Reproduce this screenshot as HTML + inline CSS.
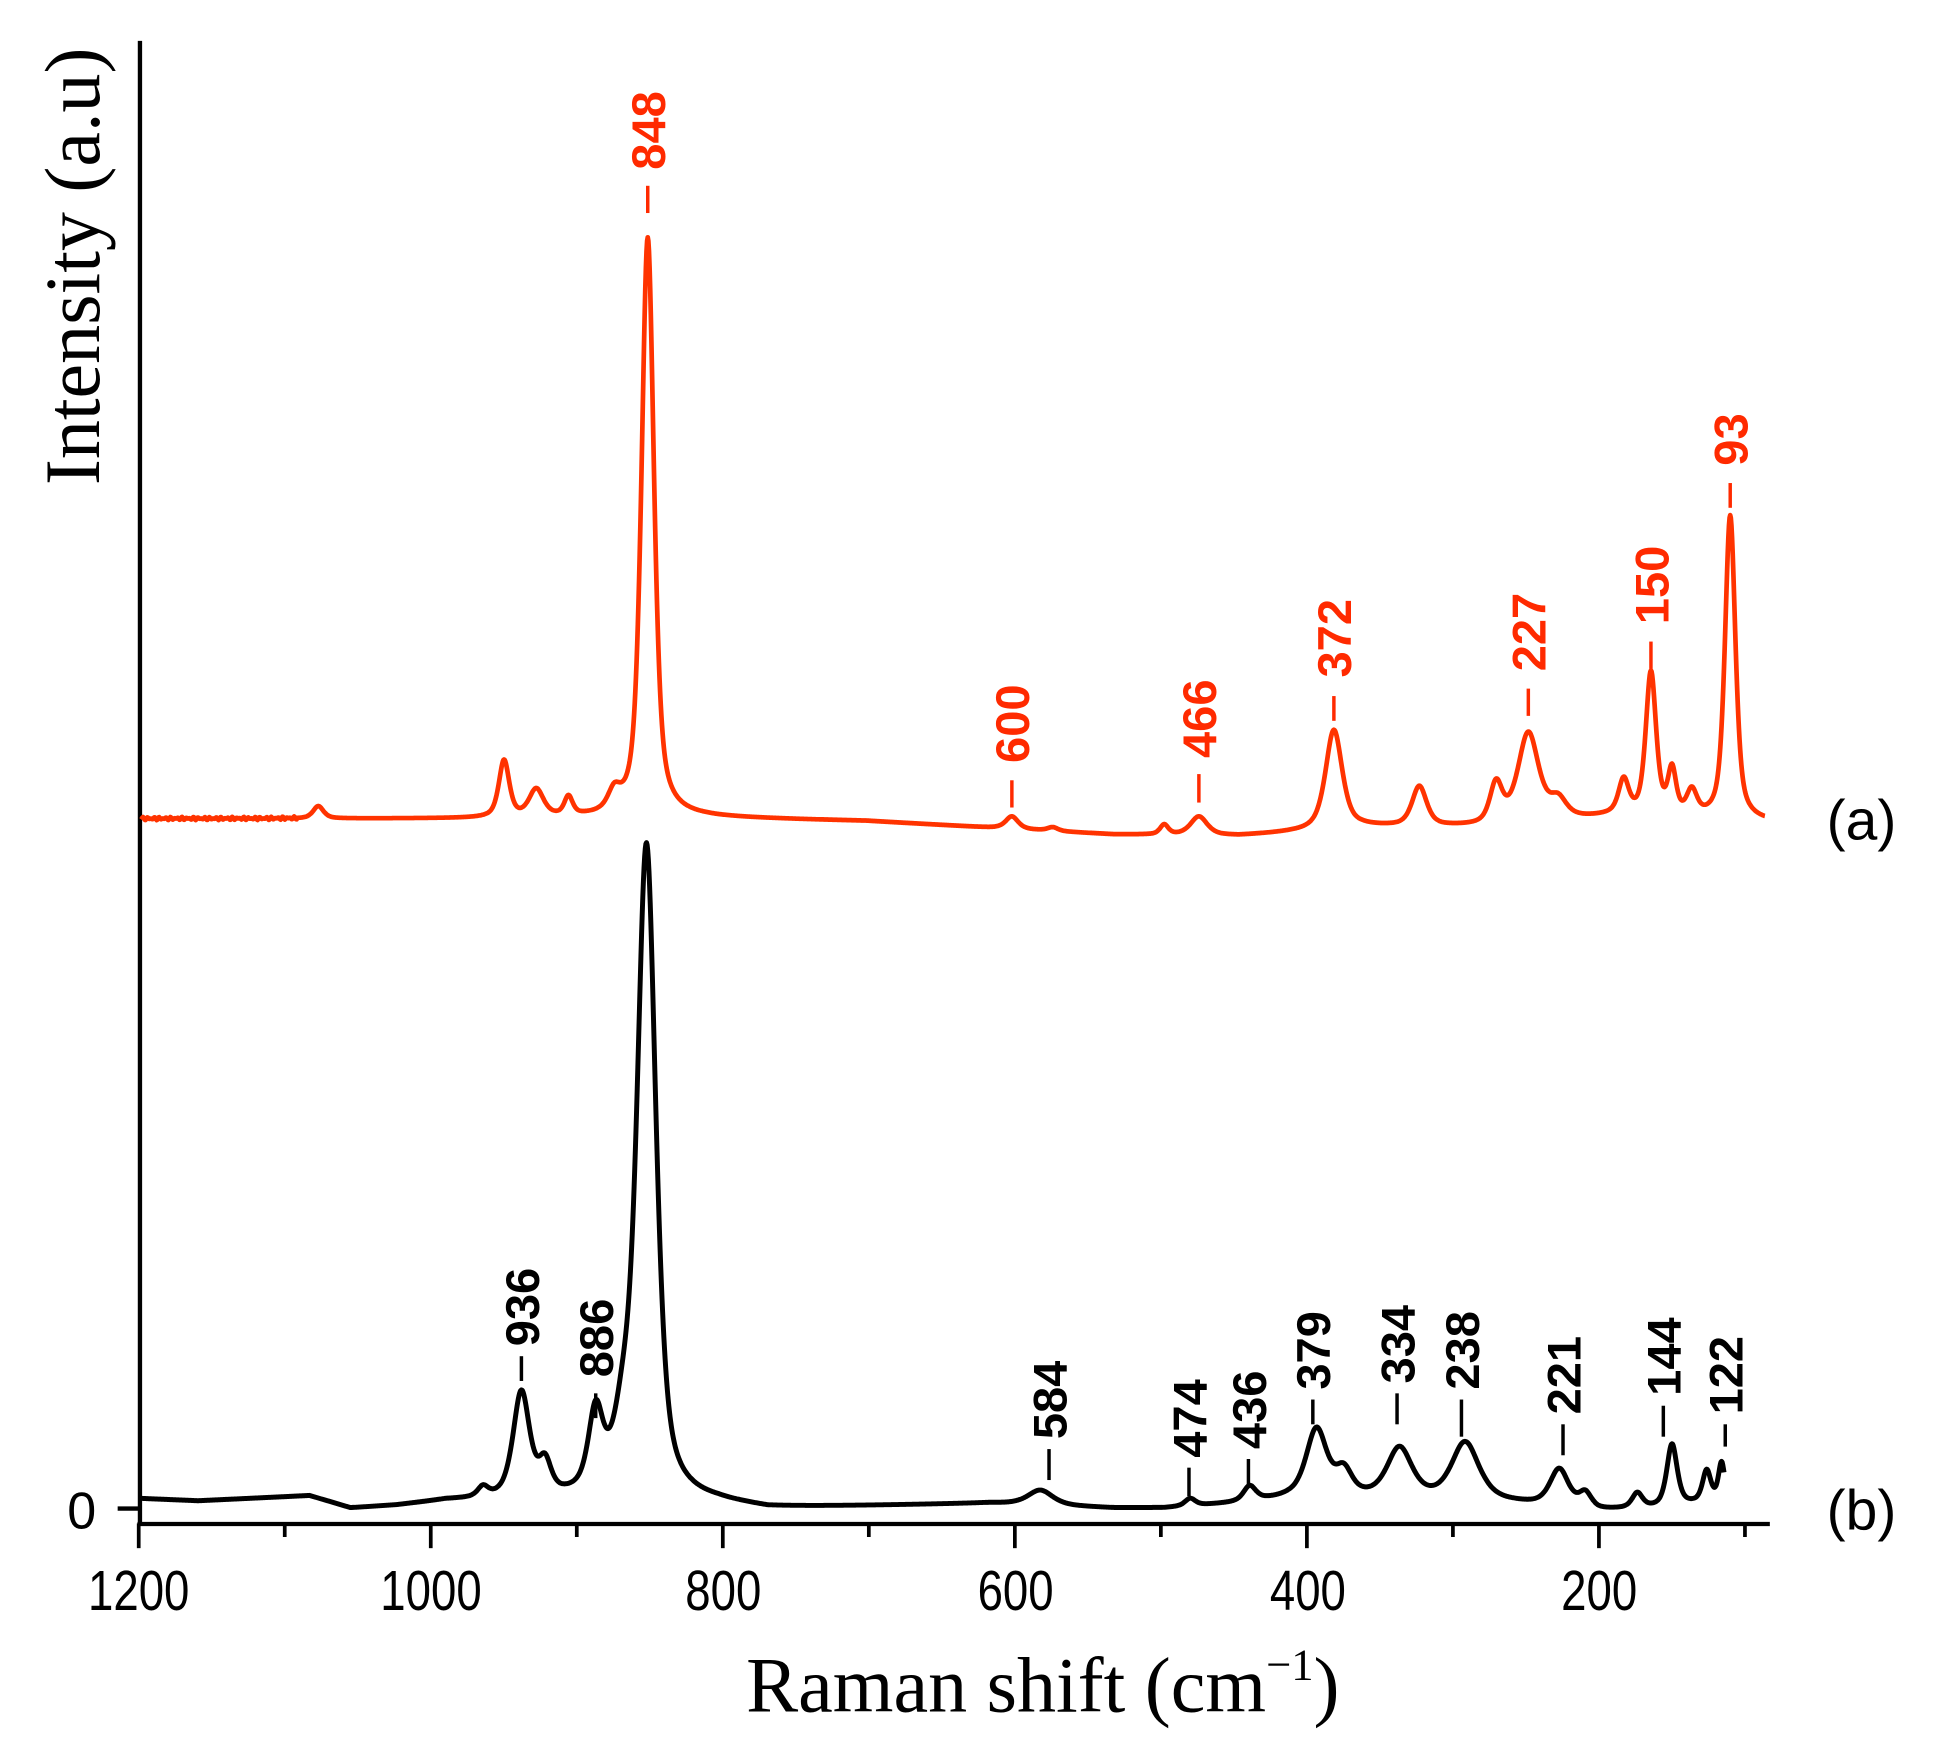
<!DOCTYPE html>
<html><head><meta charset="utf-8"><style>html,body{margin:0;padding:0;background:#fff}svg{display:block}</style></head>
<body>
<svg id="s" width="1942" height="1742" viewBox="0 0 1568 1406.5" xmlns="http://www.w3.org/2000/svg">
<rect width="1568" height="1406.5" fill="#fff"/>
<g stroke="#000" stroke-width="3.5" fill="none">
<line x1="113" y1="33" x2="113" y2="1232"/>
<line x1="111" y1="1230.5" x2="1429" y2="1230.5"/>
<line x1="95" y1="1218" x2="112" y2="1218"/>
</g>
<g id="ticks" stroke="#000" stroke-width="3"></g>
<g font-family="Liberation Sans, Arial, sans-serif" font-size="46" text-anchor="middle" fill="#000">
<g transform="scale(0.8,1)">
<text x="140" y="1300">1200</text><text x="435" y="1300">1000</text><text x="730" y="1300">800</text>
<text x="1025" y="1300">600</text><text x="1320" y="1300">400</text><text x="1614" y="1300">200</text>
</g>
<text x="66" y="1234" font-size="42">0</text>
<text x="1503" y="678" font-size="46">(a)</text>
<text x="1503" y="1235" font-size="46">(b)</text>
</g>
<text x="842" y="1382" font-family="Liberation Serif, Times New Roman, serif" font-size="63" text-anchor="middle">Raman shift (cm<tspan dy="-26" font-size="36">−1</tspan><tspan dy="26">)</tspan></text>
<text transform="translate(80,215) rotate(-90)" font-family="Liberation Serif, Times New Roman, serif" font-size="63" text-anchor="middle">Intensity (a.u)</text>
<path id="red" fill="none" stroke="#ff3300" stroke-width="3.8" stroke-linejoin="round"/>
<path id="blk" fill="none" stroke="#000" stroke-width="4" stroke-linejoin="round"/>
<g id="rl" font-family="Liberation Sans, Arial, sans-serif" font-weight="bold" font-size="38" fill="#ff2a00"></g>
<g id="bl" font-family="Liberation Sans, Arial, sans-serif" font-weight="bold" font-size="38" fill="#000"></g>
</svg>
<script>
var NS="http://www.w3.org/2000/svg";
function interp(pts,x){for(var i=0;i<pts.length-1;i++){if(x<=pts[i+1][0]){var t=(x-pts[i][0])/(pts[i+1][0]-pts[i][0]);return pts[i][1]+t*(pts[i+1][1]-pts[i][1]);}}return pts[pts.length-1][1];}
function build(base,peaks,x0,x1,noise){var d="";for(var x=x0;x<=x1;x+=0.5){var y=interp(base,x);for(var p of peaks){var u=(x-p[0])/p[2];y-=p[1]*(0.6/(1+u*u)+0.4*Math.exp(-u*u*0.7));}
if(noise&&x<240)y+=Math.sin(x*1.7)*1.3*Math.sin(x*0.31);d+=(d?"L":"M")+x.toFixed(1)+","+y.toFixed(1);}return d;}
var rb=[[113,661],[400,661],[560,660],[700,663],[900,674],[1000,675],[1050,672],[1100,668],[1200,668],[1300,660],[1425,664]];
var rp=[[257,10,5],[407,46,5],[433,22,7],[459,15,4],[496,15,6],[523,468,6],[817,10,6],[850,3,5],[940,8,4],[968,15,8],[1077,80,8],[1146,32,7],[1208,32,6],[1234,72,10],[1258,15,8],[1311,28,5],[1333,116,5],[1350,36,4],[1366,20,5],[1397,246,5]];
document.getElementById("red").setAttribute("d",build(rb,rp,114,1425,true));
var bb=[[113,1210],[160,1212],[250,1208],[283,1218],[320,1216],[360,1212],[500,1212],[580,1214],[620,1218],[800,1214],[900,1218],[940,1218],[1000,1214],[1040,1210],[1100,1210],[1200,1212],[1290,1220],[1340,1218],[1392,1212]];
var bp=[[390,8,5],[421,85,8],[440,25,6],[481,62,7],[503,45,9],[522,525,9],[840,12,12],[961,6,5],[1009,12,6],[1063,55,10],[1085,20,8],[1130,40,12],[1183,46,13],[1259,30,9],[1280,12,6],[1322,12,5],[1350,50,5],[1378,25,4],[1390,30,3]];
document.getElementById("blk").setAttribute("d",build(bb,bp,114,1392,false));
var tk=document.getElementById("ticks");
for(var v=1200;v>=100;v-=100){var x=112+(1200-v)*1.179;var l=document.createElementNS(NS,"line");l.setAttribute("x1",x);l.setAttribute("x2",x);l.setAttribute("y1",1230);l.setAttribute("y2",v%200==0?1250:1241);tk.appendChild(l);}
function lab(g,col,items){var G=document.getElementById(g);for(var it of items){var l=document.createElementNS(NS,"line");l.setAttribute("x1",it[0]);l.setAttribute("x2",it[0]);l.setAttribute("y1",it[2]);l.setAttribute("y2",it[3]);l.setAttribute("stroke",col);l.setAttribute("stroke-width","2.8");G.appendChild(l);
var t=document.createElementNS(NS,"text");t.setAttribute("transform","translate("+(it[0]+14)+","+it[4]+") rotate(-90)");t.textContent=it[1];G.appendChild(t);}}
lab("rl","#ff2a00",[[523,"848",150,172,137],[817,"600",630,652,616],[968,"466",625,648,612],[1077,"372",562,582,547],[1234,"227",556,578,542],[1333,"150",518,540,504],[1397,"93",390,410,376]]);
lab("bl","#000",[[421,"936",1095,1115,1087],[481,"886",1125,1145,1112],[847,"584",1170,1195,1162],[960,"474",1185,1208,1177],[1008,"436",1178,1200,1170],[1060,"379",1130,1150,1122],[1128,"334",1125,1150,1117],[1180,"238",1130,1160,1122],[1262,"221",1150,1175,1142],[1343,"144",1135,1160,1127],[1393,"122",1150,1168,1142]]);
</script>
</body></html>
